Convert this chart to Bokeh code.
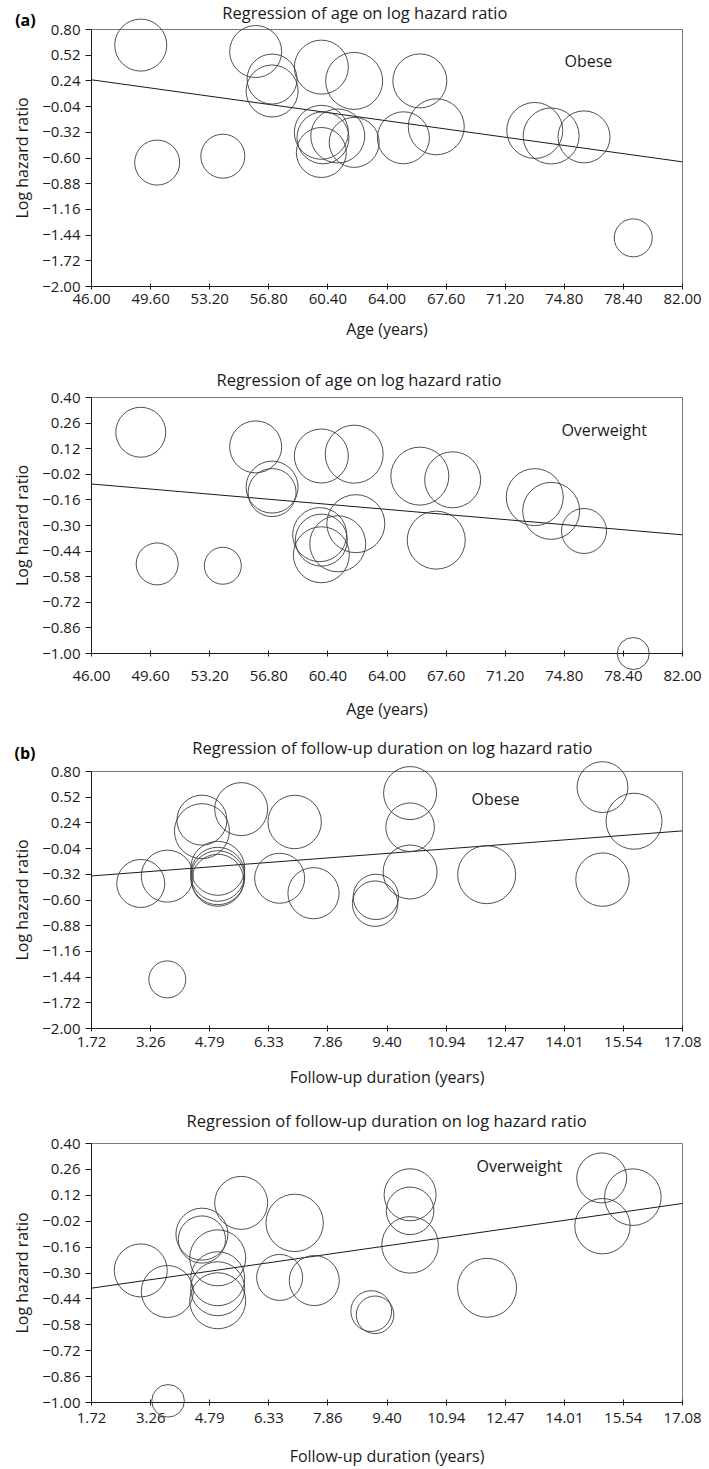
from bokeh.plotting import figure
from bokeh.layouts import column
from bokeh.models import Range1d, FixedTicker
from bokeh.core.properties import value
from bokeh.embed import file_html
from bokeh.resources import INLINE

FONT = "Open Sans"
INK = "#1a1a1a"

# ---------------- tick labels ----------------
age_tick_labels = ["46.00", "49.60", "53.20", "56.80", "60.40", "64.00",
                   "67.60", "71.20", "74.80", "78.40", "82.00"]
fu_tick_labels = ["1.72", "3.26", "4.79", "6.33", "7.86", "9.40",
                  "10.94", "12.47", "14.01", "15.54", "17.08"]
lhr_tick_labels_obese = ["0.80", "0.52", "0.24", "\u22120.04", "\u22120.32", "\u22120.60",
                         "\u22120.88", "\u22121.16", "\u22121.44", "\u22121.72", "\u22122.00"]
lhr_tick_labels_over = ["0.40", "0.26", "0.12", "\u22120.02", "\u22120.16", "\u22120.30",
                        "\u22120.44", "\u22120.58", "\u22120.72", "\u22120.86", "\u22121.00"]

# ---------------- (a) age, obese ----------------
age_obese = [49.0, 50.0, 54.0, 56.0, 57.0, 57.0, 60.0, 62.0, 66.0, 60.0,
             60.1, 61.0, 60.0, 62.0, 65.0, 67.0, 73.0, 74.0, 76.0, 79.0]
lhr_age_obese = [0.63, -0.65, -0.58, 0.56, 0.26, 0.13, 0.39, 0.24, 0.24, -0.32,
                 -0.38, -0.36, -0.54, -0.43, -0.38, -0.26, -0.30, -0.36, -0.37, -1.47]
wt_age_obese = [26, 22.5, 22, 26, 25, 26, 27, 28.5, 27, 27,
                26, 27, 25, 25, 26, 28, 28, 28, 26, 19]
fit_age_obese = [0.252, -0.642]

# ---------------- (a) age, overweight ----------------
age_over = [49.0, 50.0, 54.0, 56.0, 57.0, 57.0, 60.0, 62.0, 66.0, 68.0,
            67.0, 59.9, 60.0, 61.0, 60.0, 62.1, 73.0, 74.0, 76.0, 79.0]
lhr_age_over = [0.21, -0.51, -0.52, 0.13, -0.09, -0.12, 0.08, 0.09, -0.03, -0.05,
                -0.38, -0.35, -0.38, -0.40, -0.46, -0.29, -0.145, -0.22, -0.33, -1.00]
wt_age_over = [25, 21, 18.5, 26, 26, 24, 27, 29, 29, 28,
               29, 27, 26, 28, 28, 29, 28.5, 28.5, 22.5, 16]
fit_age_over = [-0.073, -0.351]

# ---------------- (b) follow-up, obese ----------------
fu_obese = [3.00, 3.69, 3.69, 4.59, 4.59, 5.61, 5.00, 5.00, 5.00, 5.00, 6.61,
            7.00, 7.49, 9.11, 9.09, 10.00, 10.00, 10.00, 11.99, 15.00, 15.82, 15.00]
lhr_fu_obese = [-0.42, -0.34, -1.465, 0.27, 0.15, 0.39, -0.255, -0.32, -0.357, -0.385, -0.363,
                0.25, -0.526, -0.566, -0.64, 0.565, 0.193, -0.295, -0.324, 0.63, 0.258, -0.378]
wt_fu_obese = [24, 26, 18.5, 25, 27.5, 26.5, 27, 27, 27, 26, 25,
               26.7, 25.6, 22.7, 22.7, 26.5, 24.3, 27, 29, 25.4, 28, 26.7]
fit_fu_obese = [-0.338, 0.153]

# ---------------- (b) follow-up, overweight ----------------
fu_over = [3.00, 3.69, 3.71, 4.59, 4.59, 5.61, 5.00, 5.00, 5.00, 5.00, 6.61,
           7.00, 7.51, 8.99, 9.09, 10.00, 10.00, 10.00, 12.00, 14.98, 15.79, 15.00]
lhr_fu_over = [-0.286, -0.40, -0.991, -0.09, -0.119, 0.079, -0.218, -0.331, -0.385, -0.45, -0.324,
               -0.029, -0.341, -0.506, -0.526, 0.123, 0.036, -0.148, -0.38, 0.214, 0.11, -0.047]
wt_fu_over = [26.5, 26, 16.3, 26, 23.6, 26.5, 28, 27, 27, 28, 23,
              28.7, 25, 20.4, 18.8, 26, 23.8, 28.3, 29.5, 25, 28.3, 27.7]
fit_fu_over = [-0.382, 0.076]


def num(s):
    return float(s.replace("\u2212", "-"))


def add_text(p, x, y, txt, align="center", style="normal", color=INK, size="16px"):
    r = p.text(x=[x], y=[y], text=[txt], text_align=align, text_baseline="middle",
               text_font=value(FONT), text_font_size=size, text_font_style=style,
               text_color=color)
    r.level = "overlay"
    return r


def panel(xs, ys, wts, fit_y, xticks, yticks, xlabel, title, title_xy, group, group_xy,
          tag, tag_xy, height, borders, x_std, xl_std):
    xv = [num(s) for s in xticks]
    yv = [num(s) for s in yticks]
    bl, br, bt, bb = borders
    p = figure(width=709, height=height, title=None,
               x_range=Range1d(min(xv), max(xv)), y_range=Range1d(min(yv), max(yv)),
               output_backend="svg", toolbar_location=None,
               min_border_left=bl, min_border_right=br,
               min_border_top=bt, min_border_bottom=bb)
    p.grid.visible = False
    p.outline_line_color = "#7a7a7a"
    p.outline_line_width = 1
    p.background_fill_color = "white"
    p.border_fill_color = "white"

    xa = p.xaxis[0]
    xa.ticker = FixedTicker(ticks=xv)
    xa.major_label_overrides = {v: s for v, s in zip(xv, xticks)}
    xa.axis_label = xlabel
    xa.major_tick_in = 3
    xa.major_tick_out = 3
    xa.minor_tick_line_color = None
    xa.major_label_standoff = x_std
    xa.axis_label_standoff = xl_std

    ya = p.yaxis[0]
    ya.ticker = FixedTicker(ticks=yv)
    ya.major_label_overrides = {v: s for v, s in zip(yv, yticks)}
    ya.axis_label = "Log hazard ratio"
    ya.major_tick_in = 0
    ya.major_tick_out = 6
    ya.minor_tick_line_color = None
    ya.major_label_standoff = 5
    ya.axis_label_standoff = 6

    for ax in (xa, ya):
        ax.axis_line_color = INK
        ax.major_tick_line_color = INK
        ax.major_label_text_font = FONT
        ax.major_label_text_font_size = "15px"
        ax.major_label_text_color = INK
        ax.axis_label_text_font = FONT
        ax.axis_label_text_font_size = "16px"
        ax.axis_label_text_font_style = "normal"
        ax.axis_label_text_color = INK

    p.line([min(xv), max(xv)], fit_y, line_color=INK, line_width=1)
    dots = p.scatter(x=xs, y=ys, size=[2 * w for w in wts], marker="circle",
                     fill_color=None, line_color="#3c3c3c", line_width=0.9)
    dots.level = "overlay"

    add_text(p, title_xy[0], title_xy[1], title, size="16.5px")
    add_text(p, group_xy[0], group_xy[1], group)
    if tag:
        add_text(p, tag_xy[0], tag_xy[1], tag, align="left", style="bold", color="black")
    return p


t_age = "Regression of age on log hazard ratio"
t_fu = "Regression of follow-up duration on log hazard ratio"

p1 = panel(age_obese, lhr_age_obese, wt_age_obese, fit_age_obese,
           age_tick_labels, lhr_tick_labels_obese, "Age (years)", t_age, (62.65, 0.988),
           "Obese", (76.27, 0.462), "(a)", (41.35, 0.90), 355, (85, 27, 29, 69), 4, 11)
p2 = panel(age_over, lhr_age_over, wt_age_over, fit_age_over,
           age_tick_labels, lhr_tick_labels_over, "Age (years)", t_age, (62.29, 0.50),
           "Overweight", (77.23, 0.222), None, None, 372, (91, 21, 42, 74), 14, 14)
p3 = panel(fu_obese, lhr_fu_obese, wt_fu_obese, fit_fu_obese,
           fu_tick_labels, lhr_tick_labels_obese, "Follow-up duration (years)", t_fu, (9.54, 1.057),
           "Obese", (12.22, 0.497), "(b)", (-0.28, 1.006), 363, (87, 21, 44, 61), 5, 16)
p4 = panel(fu_over, lhr_fu_over, wt_fu_over, fit_fu_over,
           fu_tick_labels, lhr_tick_labels_over, "Follow-up duration (years)", t_fu, (9.39, 0.523),
           "Overweight", (12.84, 0.28), None, None, 379, (87, 21, 53, 67), 7, 19)

layout = column(p1, p2, p3, p4, spacing=0)
open("out.html", "w").write(file_html(layout, INLINE))
